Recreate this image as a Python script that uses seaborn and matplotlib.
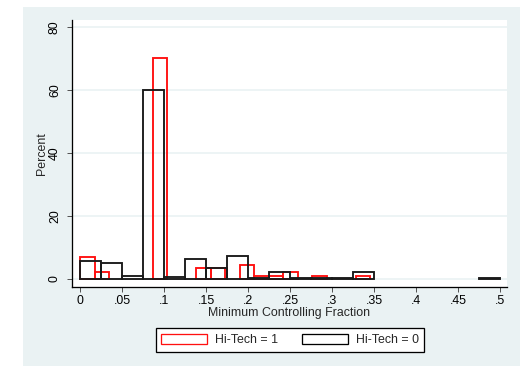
import numpy as np
import pandas as pd
import matplotlib
matplotlib.use("Agg")
import matplotlib.pyplot as plt
import seaborn as sns
from matplotlib.patches import Patch, Rectangle

# Percent of firms per bin of the minimum controlling fraction
hitech1_label = "Hi-Tech = 1"
hitech0_label = "Hi-Tech = 0"
hitech1_bin_width = 0.01725
hitech0_bin_width = 0.025
hitech1_pct = [7.1, 2.1, 0, 0, 0, 70.0, 0, 0, 3.4, 3.4,
               0, 4.6, 0.8, 1.1, 2.1, 0, 0.9, 0, 0, 0.9]
hitech0_pct = [5.8, 5.0, 1.0, 60.0, 0.5, 6.4, 3.4, 7.3, 0.3, 2.1,
               0.4, 0.3, 0.3, 2.1, 0, 0, 0, 0, 0, 0.4]
x_ticks = [0, 0.05, 0.1, 0.15, 0.2, 0.25, 0.3, 0.35, 0.4, 0.45, 0.5]
x_tick_labels = ["0", ".05", ".1", ".15", ".2", ".25", ".3", ".35", ".4", ".45", ".5"]
y_ticks = [0, 20, 40, 60, 80]

sns.set_style("white")
plt.rcParams["font.family"] = ["Liberation Sans", "DejaVu Sans"]
FS = 8.9

W, H = 524, 366
PX = 72 / 100  # points per pixel at 100 dpi
fig = plt.figure(figsize=(W / 100, H / 100), dpi=100, facecolor="white")
panel = "#eaf2f3"
fig.patches.append(Rectangle((23 / W, 0), (520 - 23) / W, (H - 7) / H,
                             transform=fig.transFigure, facecolor=panel,
                             edgecolor="none", zorder=-10))

ax = fig.add_axes([72 / W, 1 - 287 / H, (507 - 72) / W, (287 - 20) / H])
ax.set_facecolor("white")


def draw_hist(pct, width, color):
    n = len(pct)
    centers = (np.arange(n) + 0.5) * width
    df = pd.DataFrame({"x": centers, "w": pct})
    before = set(ax.patches)
    sns.histplot(data=df, x="x", weights="w", bins=n, binrange=(0, n * width),
                 fill=False, element="bars", color=color, linewidth=1.35 * PX * 1.4, ax=ax)
    for p in list(ax.patches):
        if p not in before:
            p.set_edgecolor(color)
            p.set_facecolor("none")
            if p.get_height() == 0:
                p.remove()


draw_hist(hitech1_pct, hitech1_bin_width, "#ff1010")
draw_hist(hitech0_pct, hitech0_bin_width, "#1a1a1a")

ax.set_xlim(-0.0099, 0.508)
ax.set_ylim(-2.54, 82.2)
for y in y_ticks:
    ax.axhline(y, color=panel, lw=1.2, zorder=0)

ax.set_xticks(x_ticks)
ax.set_xticklabels(x_tick_labels, fontsize=FS)
ax.set_yticks(y_ticks)
ax.set_yticklabels([str(v) for v in y_ticks], fontsize=FS, rotation=90, va="center")
ax.tick_params(axis="both", which="major", direction="out", length=5 * PX,
               width=1.0 * PX, color="#555555", labelcolor="black", bottom=True, left=True)
ax.tick_params(axis="x", pad=2.5 * PX)
ax.tick_params(axis="y", pad=6 * PX)
ax.set_xlabel("")
ax.set_ylabel("")

for s in ["top", "right"]:
    ax.spines[s].set_visible(False)
for s in ["left", "bottom"]:
    ax.spines[s].set_color("black")
    ax.spines[s].set_linewidth(1.3 * PX)

fig.text(42 / W, 1 - 154 / H, "Percent", rotation=90, ha="center", va="center", fontsize=FS)
fig.text(289.5 / W, 1 - 313 / H, "Minimum Controlling Fraction", ha="center",
         va="center", fontsize=FS)

handles = [Patch(facecolor="white", edgecolor="#ff1010", linewidth=1.3 * PX),
           Patch(facecolor="white", edgecolor="black", linewidth=1.3 * PX)]
leg = fig.legend(handles=handles, labels=[hitech1_label, hitech0_label],
                 loc="center", bbox_to_anchor=(290 / W, 1 - 340 / H), ncol=2,
                 frameon=True, fancybox=False, edgecolor="black", fontsize=FS,
                 handlelength=3.7, handleheight=0.95, handletextpad=0.65,
                 columnspacing=1.9, borderpad=0.45, borderaxespad=0)
leg.get_frame().set_linewidth(1.3 * PX)
leg.get_frame().set_facecolor("white")
leg.get_frame().set_alpha(1)

fig.savefig("out.png", dpi=100, facecolor="white")
